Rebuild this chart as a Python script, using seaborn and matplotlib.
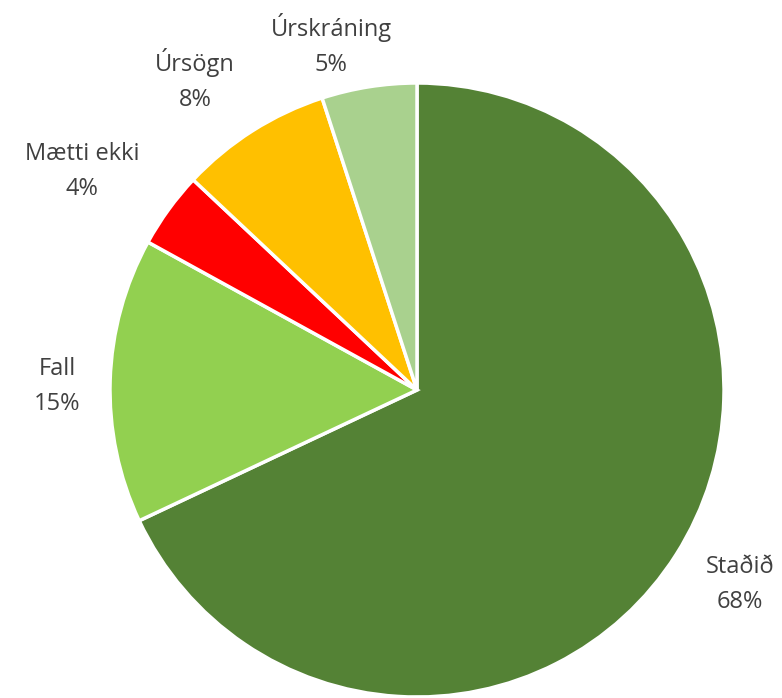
import numpy as np
import matplotlib
matplotlib.use("Agg")
import matplotlib.pyplot as plt
import seaborn as sns

categories = ["Staðið", "Fall", "Mætti ekki", "Úrsögn", "Úrskráning"]
values = [68, 15, 4, 8, 5]
pct_labels = ["68%", "15%", "4%", "8%", "5%"]
colors = ["#548235", "#92D050", "#FF0000", "#FFC000", "#A9D18E"]
label_radius = [1.229, 1.173, 1.302, 1.242, 1.158]
label_angle_shift = [1.3, 1.3, 2.9, 3.2, 5.0]

sns.set_theme(style="white")
plt.rcParams['font.family'] = ['Open Sans', 'DejaVu Sans']

fig = plt.figure(figsize=(7.82, 6.98), dpi=100)
ax = fig.add_axes([0, 0, 1, 1])
wedges, _ = ax.pie(values, colors=colors, startangle=90, counterclock=False,
                   radius=1.0, center=(0, 0),
                   wedgeprops=dict(edgecolor="white", linewidth=2.5))
for w, cat, p, r, s in zip(wedges, categories, pct_labels, label_radius, label_angle_shift):
    ang = np.deg2rad((w.theta1 + w.theta2) / 2 + s)
    ax.text(r * np.cos(ang), r * np.sin(ang), f"{cat}\n{p}", ha="center", va="center",
            fontsize=17, color="#404040", linespacing=1.6)
ax.set_xlim(-417 / 307, (782 - 417) / 307)
ax.set_ylim(-(698 - 390) / 307, 390 / 307)
ax.set_aspect("auto")
ax.axis("off")
fig.savefig("out.png", dpi=100)
